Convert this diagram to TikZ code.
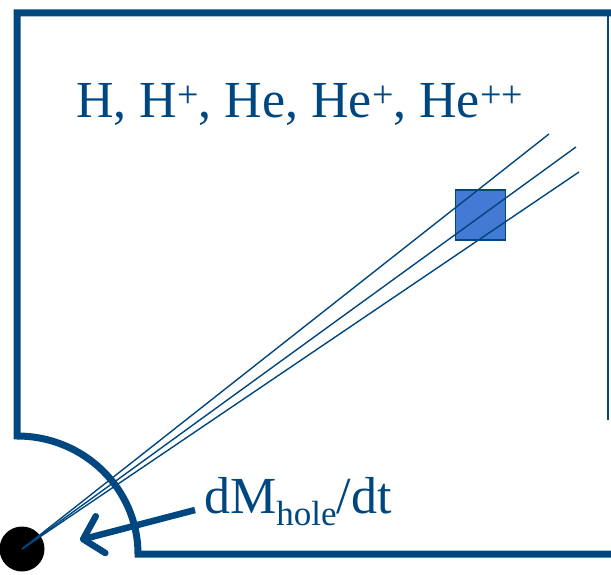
\documentclass[tikz,border=0pt]{standalone}
\usepackage{fontspec}
\setmainfont{Liberation Serif}
\usetikzlibrary{arrows.meta}
\definecolor{pblue}{HTML}{00467F}
\definecolor{pfill}{HTML}{4479D4}
\newcommand{\ionsup}[1]{\raisebox{10pt}{\fontsize{38}{38}\selectfont #1}}
\newcommand{\ratesub}[1]{\raisebox{-12pt}{\fontsize{35}{36}\selectfont #1}}

\begin{document}
\begin{tikzpicture}[
  x=1pt,y=-1pt,
  wall/.style={draw=pblue,line width=7pt},
  ray/.style={draw=pblue,line width=1.4pt},
  cell/.style={draw=pblue,fill=pfill,line width=1.2pt,minimum size=50pt,inner sep=0pt},
  lbl/.style={text=pblue,font=\fontsize{52}{54}\selectfont,inner sep=0pt,anchor=base west},
  flow/.style={draw=pblue,line width=6.5pt,-{Straight Barb[length=18pt,width=38pt,round]}}
]
\useasboundingbox (0,0) rectangle (611,575);

% box with the cut-out round the hole
\draw[wall] (611,13) -- (17,13) -- (17,436)
  arc[start angle=-90,end angle=0,x radius=121,y radius=118] -- (611,554);
\draw[pblue,line width=2pt] (608,13) -- (608,420);

\node[circle,fill=black,minimum size=45pt,inner sep=0pt] (hole) at (22,549) {};
\node[cell] (probe) at (480.5,215) {};

\coordinate (r1) at (549,134);
\coordinate (r2) at (576,147);
\coordinate (r3) at (579,172);
\draw[ray] (hole.center) -- (r1);
\draw[ray] (hole.center) -- (r2);
\draw[ray] (hole.center) -- (r3);

\node[lbl] (species) at (76,118)
  {H, H\ionsup{+}, He, He\ionsup{+}, He\ionsup{++}};
\node[lbl] (rate) at (204,513) {dM\ratesub{hole}/dt};

\coordinate (flowstart) at (195,510);
\coordinate (flowend) at (80,540);
\draw[flow] (flowstart) -- (flowend);
\end{tikzpicture}
\end{document}
